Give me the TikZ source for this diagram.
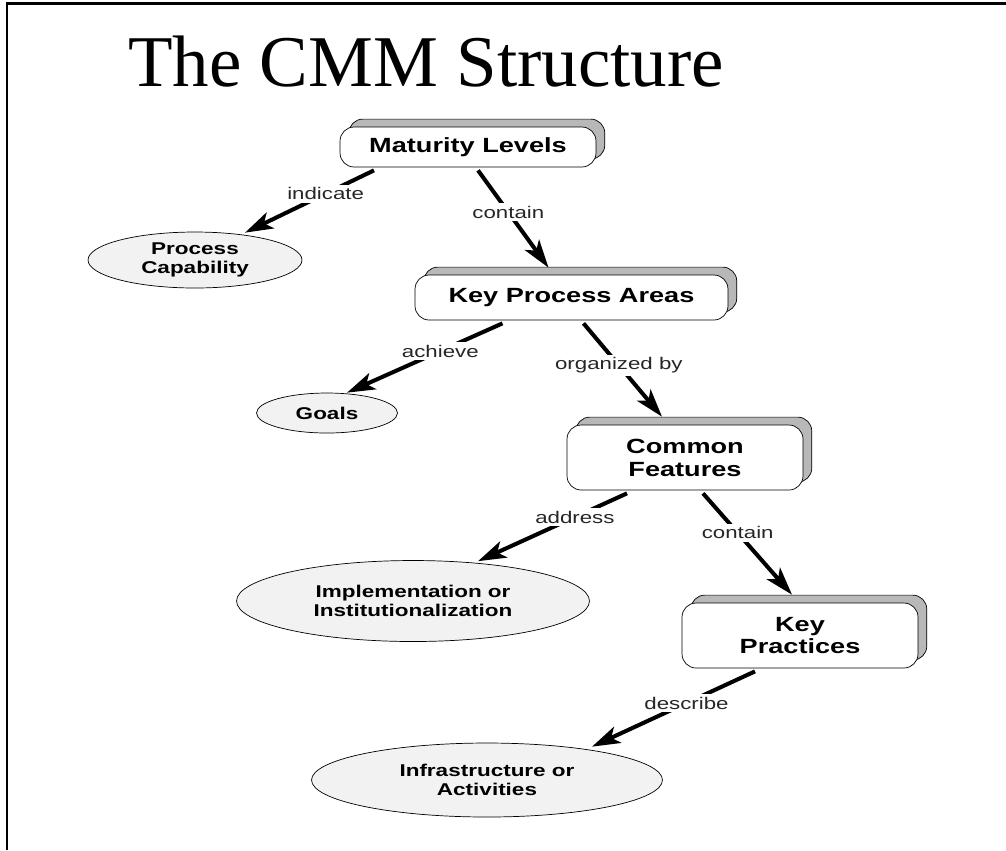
\documentclass[tikz,border=0pt]{standalone}
\usepackage{fontspec}
\setmainfont{Liberation Serif}
\newfontfamily\cmmsans[FakeStretch=1.32]{Liberation Sans}
\usetikzlibrary{arrows.meta,calc,shapes.geometric,shadows}

\begin{document}
\begin{tikzpicture}[x=0.02cm, y=-0.02cm,
  level/.style={draw=black, fill=white, rounded corners=8pt, align=center, inner sep=1pt, font=\cmmsans\bfseries\fontsize{11.7}{13}\selectfont, general shadow={shadow xshift=5pt, shadow yshift=4.5pt, fill=black!28, draw=black}},
  item/.style={ellipse, draw=black, fill=black!5, align=center, inner sep=0pt, font=\cmmsans\bfseries\fontsize{9.7}{11}\selectfont},
  arr/.style={-{Stealth[length=16pt, width=10pt, inset=4pt]}, line width=2.3pt},
  verb/.style={fill=white, inner sep=1.5pt, text=black!85, font=\cmmsans\fontsize{9.6}{10}\selectfont}]
\useasboundingbox (0,0) rectangle (1006,850);
\draw[line width=1.7pt] (7,850) -- (7,3) -- (1006,3);
\node[anchor=base west, inner sep=0pt, font=\fontsize{41.5}{42}\selectfont] (title) at (128,86) {The CMM Structure};
\node[level, minimum width=5.12cm, minimum height=0.8cm] (ml)  at (468,147)   {Maturity Levels};
\node[level, minimum width=6.26cm, minimum height=0.9cm] (kpa) at (571.5,297.5) {Key Process Areas};
\node[level, minimum width=4.72cm, minimum height=1.3cm] (cf)  at (685,457.5) {Common\\Features};
\node[level, minimum width=4.72cm, minimum height=1.3cm] (kp)  at (800,635.5) {Key\\Practices};
\node[item, minimum width=4.28cm, minimum height=1.12cm] (pc)    at (195,260) {Process\\Capability};
\node[item, minimum width=2.82cm, minimum height=0.8cm]  (goals) at (327,413) {Goals};
\node[item, minimum width=7.06cm, minimum height=1.62cm] (impl)  at (413,601) {Implementation or\\Institutionalization};
\node[item, minimum width=7.02cm, minimum height=1.48cm] (infra) at (487,780) {Infrastructure or\\Activities};
\draw[arr] ($(ml.south)+(-94,3)$) -- node[verb, pos=0.375] {indicate} ($(pc.north)+(50,1)$);
\draw[arr] ($(ml.south)+(10,3)$) -- node[verb, pos=0.43] {contain} ($(kpa.north)+(-23,-7)$);
\draw[arr] ($(kpa.south)+(-69,3)$) -- node[verb, pos=0.4] {achieve} ($(goals.north)+(20,0)$);
\draw[arr] ($(kpa.south)+(12,3)$) -- node[verb, pos=0.45] {organized by} ($(cf.north)+(-23,-8)$);
\draw[arr] ($(cf.south)+(-58,3)$) -- node[verb, pos=0.35] {address} ($(impl.north)+(65,1)$);
\draw[arr] ($(cf.south)+(18,3)$) -- node[verb, pos=0.39] {contain} ($(kp.north)+(-8,-8)$);
\draw[arr] ($(kp.south)+(-45,3)$) -- node[verb, pos=0.42] {describe} ($(infra.north)+(105,4)$);
\end{tikzpicture}
\end{document}
